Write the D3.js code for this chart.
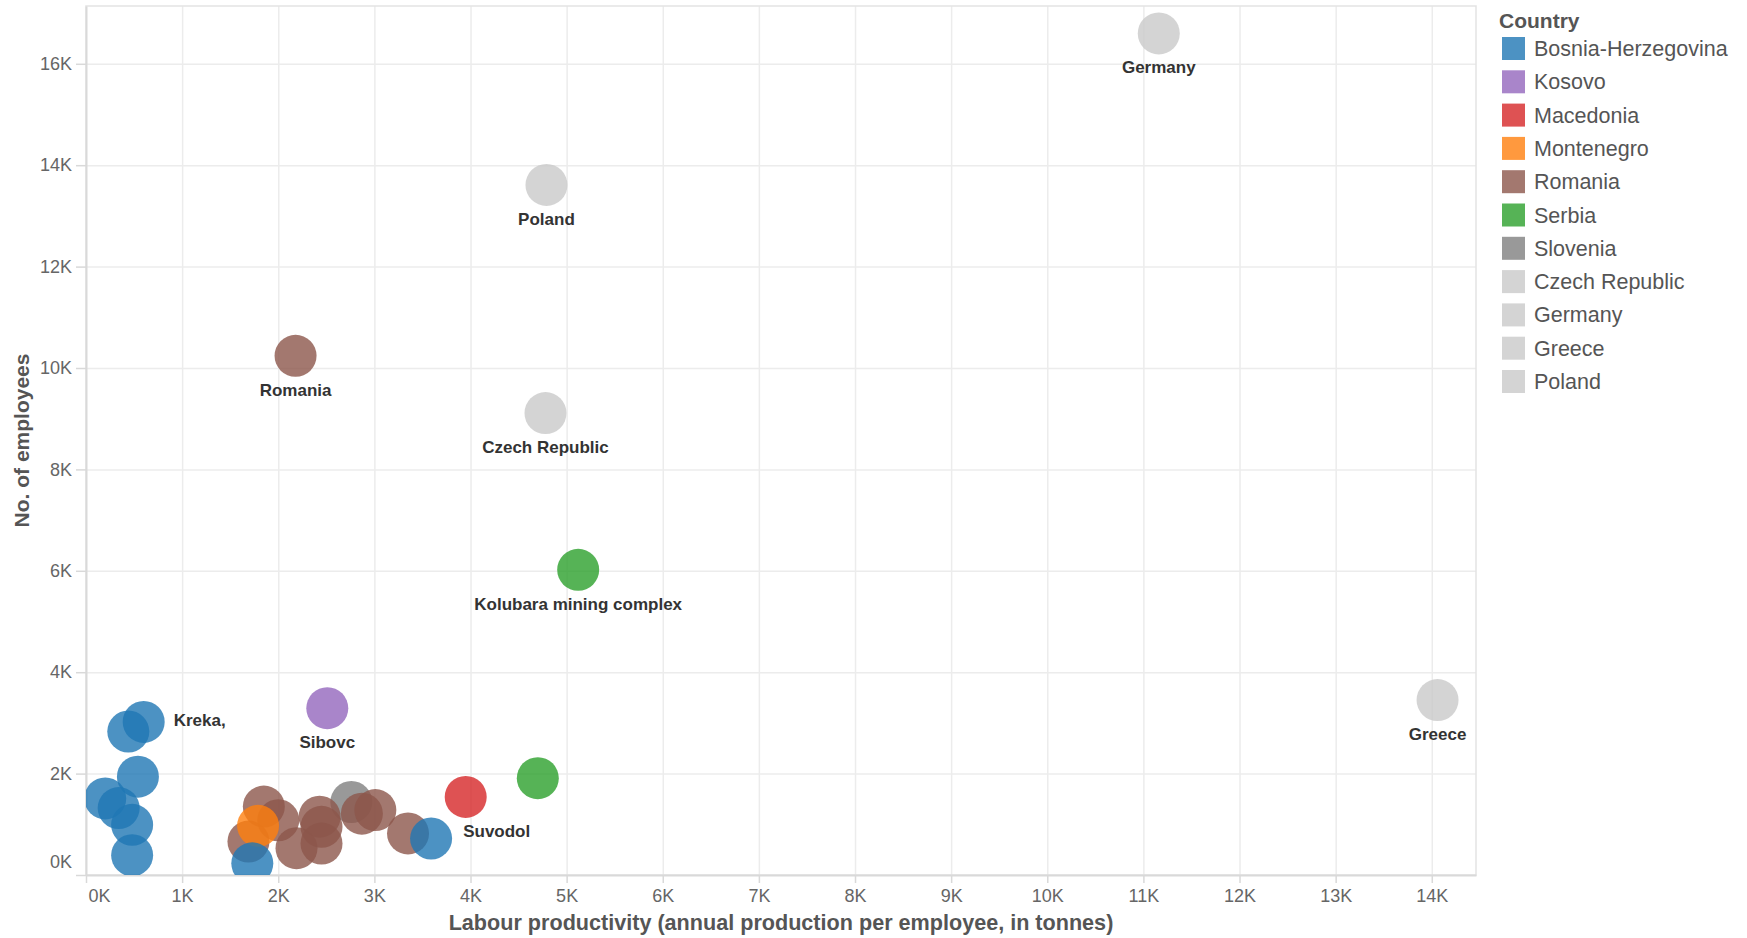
<!DOCTYPE html>
<html>
<head>
<meta charset="utf-8">
<script src="https://cdn.jsdelivr.net/npm/d3@7"></script>
<style>
  body { margin: 0; background: #fff; font-family: "Liberation Sans", Arial, sans-serif; }
  .grid line { stroke: #ececec; stroke-width: 1.5; }
  .grid path { display: none; }
  .axis path { stroke: #d9d9d9; stroke-width: 2; }
  .axis line { stroke: #d9d9d9; stroke-width: 1.5; }
  .axis text { fill: #666; font-size: 18px; font-family: "Liberation Sans", Arial, sans-serif; }
  .axis-title { fill: #555; font-size: 21px; font-weight: bold; }
  .mark-label { fill: #333; font-size: 17px; font-weight: bold; }
  .legend-title { fill: #555; font-size: 21px; font-weight: bold; }
  .legend text.item { fill: #555; font-size: 21.5px; }
</style>
</head>
<body>
<script>
// legend order and colours
let countries = ["Bosnia-Herzegovina", "Kosovo", "Macedonia", "Montenegro", "Romania", "Serbia",
                 "Slovenia", "Czech Republic", "Germany", "Greece", "Poland"];
let countryColors = ["#1f77b4", "#9467bd", "#d62728", "#ff7f0e", "#8c564b", "#2ca02c",
                     "#7f7f7f", "#c9c9c9", "#c9c9c9", "#c9c9c9", "#c9c9c9"];

// one entry per mine / country total (draw order)
let mineCountry = [
  "Czech Republic", "Germany", "Greece", "Poland",
  "Slovenia",
  "Romania", "Romania", "Romania", "Romania", "Romania", "Romania", "Romania", "Romania", "Romania", "Romania", "Romania",
  "Serbia", "Serbia",
  "Montenegro", "Macedonia", "Kosovo",
  "Bosnia-Herzegovina", "Bosnia-Herzegovina", "Bosnia-Herzegovina", "Bosnia-Herzegovina", "Bosnia-Herzegovina",
  "Bosnia-Herzegovina", "Bosnia-Herzegovina", "Bosnia-Herzegovina", "Bosnia-Herzegovina"
];
// labour productivity, tonnes per employee
let productivity = [
  4780, 11160, 14060, 4790,
  2760,
  2180, 1850, 1690, 2000, 2190, 2430, 2450, 2450, 2870, 3010, 3350,
  5120, 4700,
  1790, 3950, 2510,
  600, 440, 540, 200, 340, 480, 480, 1730, 3590
];
// number of employees
let employees = [
  9110, 16600, 3450, 13610,
  1440,
  10240, 1350, 660, 1080, 530, 1150, 950, 620, 1210, 1280, 820,
  6020, 1910,
  970, 1540, 3290,
  3020, 2830, 1940, 1510, 1320, 990, 390, 230, 720
];
let mineLabels = [
  "Czech Republic", "Germany", "Greece", "Poland",
  "",
  "Romania", "", "", "", "", "", "", "", "", "", "",
  "Kolubara mining complex", "",
  "", "Suvodol", "Sibovc",
  "Kreka,", "", "", "", "", "", "", "", ""
];

let xTicks = d3.range(0, 15000, 1000);
let yTicks = d3.range(0, 18000, 2000);

const width = 1747, height = 938;
const plot = { left: 86, right: 1476, top: 6, bottom: 875 };
const radius = 21;
const markOpacity = 0.8;

let svg = d3.select("body").append("svg")
    .attr("width", width)
    .attr("height", height);

let x = d3.scaleLinear().domain([0, 14460]).range([plot.left, plot.right]);
let y = d3.scaleLinear().domain([0, 17140]).range([plot.bottom, plot.top]);
let color = d3.scaleOrdinal().domain(countries).range(countryColors);
let fmt = d => (d / 1000) + "K";

//grid lines
svg.append("g")
    .attr("class", "grid")
    .attr("transform", `translate(0,${plot.bottom})`)
    .call(d3.axisBottom(x).tickValues(xTicks.slice(1)).tickSize(-(plot.bottom - plot.top)).tickFormat(""));
svg.append("g")
    .attr("class", "grid")
    .attr("transform", `translate(${plot.left},0)`)
    .call(d3.axisLeft(y).tickValues(yTicks.slice(1)).tickSize(-(plot.right - plot.left)).tickFormat(""));

//plot border
svg.append("rect")
    .attr("x", plot.left)
    .attr("y", plot.top)
    .attr("width", plot.right - plot.left)
    .attr("height", plot.bottom - plot.top)
    .attr("fill", "none")
    .attr("stroke", "#e3e3e3")
    .attr("stroke-width", 1.5);

//axes
let xAxis = svg.append("g")
    .attr("class", "axis")
    .attr("transform", `translate(0,${plot.bottom})`)
    .call(d3.axisBottom(x).tickValues(xTicks).tickSize(8).tickSizeOuter(0).tickPadding(6).tickFormat(fmt));
xAxis.selectAll(".tick text")
    .filter(d => d === 0)
    .attr("text-anchor", "start")
    .attr("x", 2);

let yAxis = svg.append("g")
    .attr("class", "axis")
    .attr("transform", `translate(${plot.left},0)`)
    .call(d3.axisLeft(y).tickValues(yTicks).tickSize(10).tickSizeOuter(0).tickPadding(4).tickFormat(fmt));
yAxis.selectAll(".tick text")
    .filter(d => d === 0)
    .attr("y", -13);

//axis titles
svg.append("text")
    .attr("class", "axis-title")
    .attr("x", (plot.left + plot.right) / 2)
    .attr("y", 922)
    .attr("dy", "0.35em")
    .attr("text-anchor", "middle")
    .style("font-size", "21.6px")
    .text("Labour productivity (annual production per employee, in tonnes)");

svg.append("text")
    .attr("class", "axis-title")
    .attr("transform", `translate(22,${(plot.top + plot.bottom) / 2}) rotate(-90)`)
    .attr("dy", "0.35em")
    .attr("text-anchor", "middle")
    .text("No. of employees");

//bubbles
svg.append("clipPath")
    .attr("id", "plot-clip")
  .append("rect")
    .attr("x", plot.left)
    .attr("y", plot.top)
    .attr("width", plot.right - plot.left)
    .attr("height", plot.bottom - plot.top);

let idx = d3.range(mineCountry.length);

svg.append("g")
    .attr("clip-path", "url(#plot-clip)")
  .selectAll("circle")
  .data(idx)
  .join("circle")
    .attr("cx", i => x(productivity[i]))
    .attr("cy", i => y(employees[i]))
    .attr("r", radius)
    .attr("fill", i => color(mineCountry[i]))
    .attr("fill-opacity", markOpacity);

//mark labels: below the bubble, except a couple that sit aside
let labelled = idx.filter(i => mineLabels[i] !== "");
svg.append("g")
  .selectAll("text")
  .data(labelled)
  .join("text")
    .attr("class", "mark-label")
    .attr("x", i => {
      if (mineLabels[i] === "Kreka,") return x(productivity[i]) + radius + 9;
      if (mineLabels[i] === "Suvodol") return x(productivity[i]) + 31;
      return x(productivity[i]);
    })
    .attr("y", i => mineLabels[i] === "Kreka," ? y(employees[i]) - 2 : y(employees[i]) + 34)
    .attr("dy", "0.35em")
    .attr("text-anchor", i => mineLabels[i] === "Kreka," ? "start" : "middle")
    .text(i => mineLabels[i]);

//legend
let legend = svg.append("g")
    .attr("class", "legend")
    .attr("transform", "translate(1499,0)");

legend.append("text")
    .attr("class", "legend-title")
    .attr("x", 0)
    .attr("y", 21)
    .attr("dy", "0.35em")
    .text("Country");

const legendBox = 23;
const legendStep = 33.3;
const legendTop = 37;

countries.forEach((c, i) => {
  legend.append("rect")
      .attr("x", 3)
      .attr("y", legendTop + i * legendStep)
      .attr("width", legendBox)
      .attr("height", legendBox)
      .attr("fill", color(c))
      .attr("fill-opacity", markOpacity);
  legend.append("text")
      .attr("class", "item")
      .attr("x", 35)
      .attr("y", legendTop + i * legendStep + legendBox / 2)
      .attr("dy", "0.35em")
      .text(c);
});
</script>
</body>
</html>
